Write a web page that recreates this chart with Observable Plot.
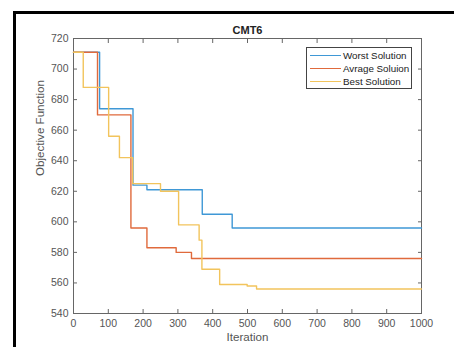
<!DOCTYPE html>
<html><head><meta charset="utf-8">
<script src="https://cdn.jsdelivr.net/npm/d3@7"></script>
<script src="https://cdn.jsdelivr.net/npm/@observablehq/plot@0.6"></script>
<style>
html,body{margin:0;padding:0;background:#fff;}
#wrap{position:relative;width:454px;height:347px;overflow:hidden;font-family:"Liberation Sans",Arial,sans-serif;}
#border{position:absolute;left:13px;top:11px;width:600px;height:600px;border-left:3px solid #000;border-top:3px solid #000;}
#chart{position:absolute;left:0;top:0;}
#legend{position:absolute;left:306px;top:47px;width:104px;height:40px;border:1px solid #444;background:#fff;font-size:9.8px;color:#222;}
.row{position:absolute;left:0;height:13px;line-height:13px;white-space:nowrap;}
.sw{position:absolute;left:3px;top:6px;width:31px;height:0;border-top:1.5px solid;}
.lb{position:absolute;left:36px;top:0;}
</style></head>
<body><div id="wrap"><div id="border"></div><div id="chart"></div><div id="legend"></div></div>
<script>
const seriesNames = ["Worst Solution", "Avrage Soluion", "Best Solution"];
const seriesColors = ["#3f98d6", "#e06a3c", "#f2c45c"];
const worstIter = [0, 75, 171, 211, 370, 456, 1000];
const worstVal  = [711, 674, 624, 621, 605, 596, 596];
const avgIter = [0, 69, 165, 211, 295, 339, 1000];
const avgVal  = [711, 670, 596, 583, 580, 576, 576];
const bestIter = [0, 28, 101, 132, 170, 250, 302, 361, 369, 420, 499, 526, 1000];
const bestVal  = [711, 688, 656, 642, 625, 620, 598, 588, 569, 559, 558, 556, 556];
const xTicks = [0,100,200,300,400,500,600,700,800,900,1000];
const yTicks = [540,560,580,600,620,640,660,680,700,720];
const titleText = "CMT6";
const xLabel = "Iteration";
const yLabel = "Objective Function";

const toRows = (xs, ys, s) => xs.map((x, i) => ({x, y: ys[i], s}));
const data = [
  ...toRows(worstIter, worstVal, seriesNames[0]),
  ...toRows(avgIter, avgVal, seriesNames[1]),
  ...toRows(bestIter, bestVal, seriesNames[2])
];
const axisColor = "#666";
const fmt = d => String(d);
const chart = Plot.plot({
  width: 454, height: 347,
  marginLeft: 73, marginRight: 33, marginTop: 38, marginBottom: 34,
  style: {fontFamily: "'Liberation Sans', Arial, sans-serif", fontSize: "10px", background: "transparent"},
  x: {domain: [0, 1000]},
  y: {domain: [540, 720]},
  color: {domain: seriesNames, range: seriesColors},
  marks: [
    Plot.frame({stroke: axisColor, strokeWidth: 1}),
    Plot.line(data, {x: "x", y: "y", z: "s", stroke: "s", curve: "step-after", strokeWidth: 1.4}),
    Plot.axisX({ticks: xTicks, tickSize: -4, text: null, stroke: axisColor, label: null}),
    Plot.axisX({ticks: xTicks, anchor: "top", tickSize: -4, text: null, stroke: axisColor, label: null}),
    Plot.axisY({ticks: yTicks, tickSize: -4, text: null, stroke: axisColor, label: null}),
    Plot.axisY({ticks: yTicks, anchor: "right", tickSize: -4, text: null, stroke: axisColor, label: null}),
    Plot.axisX({ticks: xTicks, tickFormat: fmt, tickSize: 0, tickPadding: 6, fill: "#555", fontSize: 10.5, label: null}),
    Plot.axisY({ticks: yTicks, tickFormat: fmt, tickSize: 0, tickPadding: 5, fill: "#555", fontSize: 10.5, label: null}),
    Plot.text([xLabel], {frameAnchor: "bottom", dy: 27, fontSize: 11.6, fill: "#555"}),
    Plot.text([yLabel], {frameAnchor: "left", dx: -33, rotate: -90, fontSize: 11.6, fill: "#555"}),
    Plot.text([titleText], {frameAnchor: "top", dy: -12, fontWeight: "bold", fontSize: 11, fill: "#222"})
  ]
});
document.getElementById("chart").appendChild(chart);
const legend = document.getElementById("legend");
seriesNames.forEach((n, i) => {
  const r = document.createElement("div");
  r.className = "row";
  r.style.top = (1 + i * 13) + "px";
  r.style.width = "104px";
  r.innerHTML = `<span class="sw" style="border-color:${seriesColors[i]}"></span><span class="lb">${n}</span>`;
  legend.appendChild(r);
});
</script></body></html>
